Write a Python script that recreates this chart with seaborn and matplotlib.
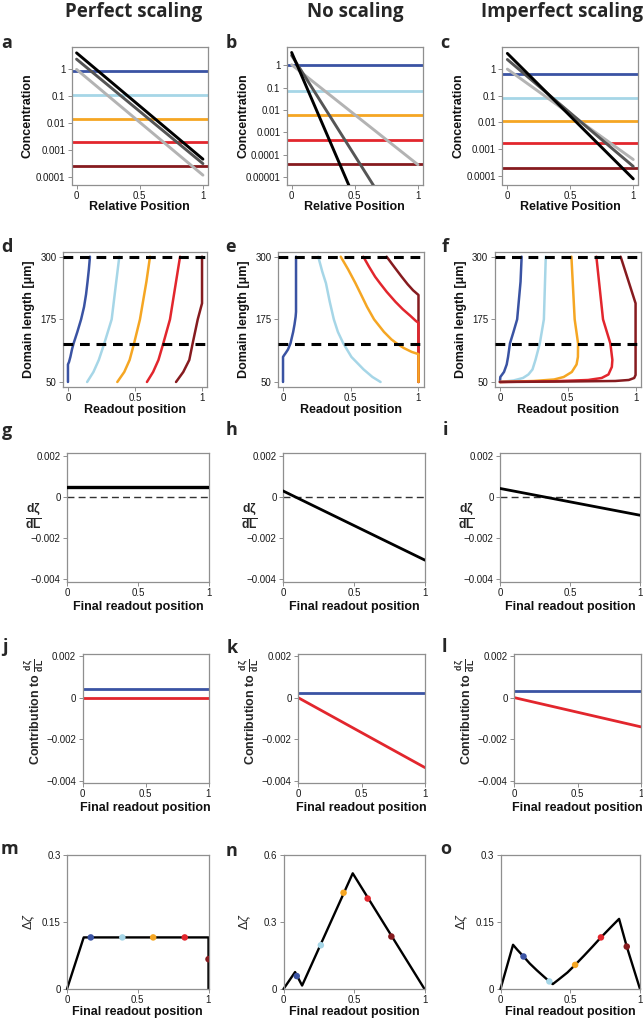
import matplotlib
matplotlib.use("Agg")
import matplotlib.pyplot as plt
import seaborn as sns
import pandas as pd

# ---------------- data ----------------
col_titles = ["Perfect scaling", "No scaling", "Imperfect scaling"]
panel_letters = list("abcdefghijklmno")
thr_colors = ["#3a53a3", "#a6d6e7", "#f5a623", "#e2262d", "#861b1f"]
grad_colors = ["#000000", "#555555", "#b3b3b3"]

# row 1: morphogen gradients (value at relative position 0 and 1) and thresholds
rel_pos = [0.0, 1.0]
grad_a = [[4.1, 4.7e-4], [2.4, 3.2e-4], [1.0, 1.2e-4]]
grad_b = [[3.7, 3e-13], [2.75, 3e-9], [1.05, 3.6e-5]]
grad_c = [[3.9, 7.5e-5], [2.3, 2.2e-4], [1.0, 4.0e-4]]
thr_a = [0.85, 0.11, 0.015, 0.002, 2.7e-4]
thr_b = [1.0, 0.072, 0.006, 4.8e-4, 3.8e-5]
thr_c = [0.65, 0.085, 0.0115, 0.0016, 2.0e-4]
conc_ticks_ac = [1, 0.1, 0.01, 0.001, 0.0001]
conc_labels_ac = ["1", "0.1", "0.01", "0.001", "0.0001"]
conc_ticks_b = [1, 0.1, 0.01, 0.001, 0.0001, 0.00001]
conc_labels_b = ["1", "0.1", "0.01", "0.001", "0.0001", "0.00001"]

# row 2: readout position vs domain length
dom_lines = [125, 300]
d_L = [[50, 85, 90, 100, 115, 127, 150, 175, 200, 225, 250, 275, 300],
       [50, 70, 94, 127, 175, 250, 300],
       [50, 70, 94, 127, 175, 250, 300],
       [50, 70, 94, 127, 175, 250, 300],
       [50, 70, 94, 127, 175, 207, 300]]
d_x = [[0.0, 0.0, 0.008, 0.018, 0.030, 0.042, 0.070, 0.098, 0.120, 0.135, 0.146, 0.156, 0.164],
       [0.143, 0.19, 0.23, 0.271, 0.326, 0.36, 0.383],
       [0.368, 0.42, 0.46, 0.493, 0.537, 0.585, 0.612],
       [0.589, 0.635, 0.675, 0.711, 0.761, 0.806, 0.836],
       [0.806, 0.86, 0.905, 0.93, 0.968, 1.0, 1.0]]
e_L = [[50, 100, 103, 108, 115, 127, 150, 165, 180, 190, 300],
       [50, 60, 75, 100, 127, 150, 175, 210, 247, 270, 300],
       [50, 105.6, 110, 118, 127, 135, 150, 175, 200, 225, 247, 275, 300],
       [50, 168, 172, 182, 195, 210, 230, 247, 260, 280, 300],
       [50, 223.6, 233, 245, 260, 280, 300]]
e_x = [[0.0, 0.0, 0.007, 0.020, 0.037, 0.055, 0.075, 0.085, 0.093, 0.096, 0.096],
       [0.72, 0.66, 0.595, 0.505, 0.445, 0.405, 0.375, 0.345, 0.317, 0.29, 0.26],
       [1.0, 1.0, 0.95, 0.89, 0.839, 0.80, 0.745, 0.672, 0.62, 0.575, 0.535, 0.48, 0.426],
       [1.0, 1.0, 0.98, 0.94, 0.885, 0.83, 0.765, 0.716, 0.68, 0.635, 0.593],
       [1.0, 1.0, 0.96, 0.92, 0.876, 0.82, 0.765]]
f_L = [[50, 60, 70, 85, 100, 127, 150, 175, 250, 300],
       [50, 53, 58, 65, 75, 94, 127, 175, 300],
       [50, 52, 55, 60, 70, 85, 100, 127, 175, 300],
       [50, 51.5, 54, 58, 65, 80, 94, 127, 175, 300],
       [50, 51, 52, 54, 58, 64, 207, 300]]
f_x = [[0.0, 0.003, 0.03, 0.05, 0.06, 0.074, 0.10, 0.127, 0.152, 0.16],
       [0.0, 0.10, 0.17, 0.21, 0.24, 0.262, 0.294, 0.324, 0.338],
       [0.0, 0.25, 0.40, 0.47, 0.53, 0.565, 0.575, 0.576, 0.551, 0.527],
       [0.0, 0.40, 0.65, 0.75, 0.80, 0.825, 0.829, 0.814, 0.76, 0.711],
       [0.0, 0.50, 0.85, 0.95, 0.99, 1.0, 1.0, 0.89]]
dom_ticks = [50, 175, 300]

# row 3: dzeta/dL vs final readout position
fin_pos = [0.0, 1.0]
g_y = [0.00046, 0.00046]
h_y = [0.00029, -0.00307]
i_y = [0.00041, -0.00089]
deriv_ticks = [0.002, 0, -0.002, -0.004]
deriv_labels = ["0.002", "0", "\u22120.002", "\u22120.004"]

# row 4: contributions (blue = constant term, red = position term)
j_blue, j_red = [0.00040, 0.00040], [0.0, 0.0]
k_blue, k_red = [0.00024, 0.00024], [0.0, -0.00337]
l_blue, l_red = [0.00032, 0.00032], [0.0, -0.00141]

# row 5: readout error
m_x = [0.0, 0.118, 1.0, 1.0]
m_y = [0.0, 0.1155, 0.1155, 0.0]
m_dx = [0.168, 0.391, 0.609, 0.832, 1.0]
m_dy = [0.1155, 0.1155, 0.1155, 0.1155, 0.0668]
n_x = [0.0, 0.082, 0.132, 0.491, 1.0]
n_y = [0.0, 0.0758, 0.0155, 0.518, 0.0]
n_dx = [0.094, 0.265, 0.426, 0.597, 0.765]
n_dy = [0.058, 0.196, 0.431, 0.405, 0.235]
o_x = [0.0, 0.09, 0.12, 0.165, 0.21, 0.26, 0.31, 0.35, 0.375, 0.42, 0.48, 0.535,
       0.60, 0.66, 0.72, 0.79, 0.85, 0.905, 1.0]
o_y = [0.0, 0.099, 0.088, 0.0728, 0.057, 0.042, 0.028, 0.017, 0.011, 0.022, 0.037, 0.054,
       0.075, 0.095, 0.1155, 0.138, 0.157, 0.095, 0.0]
o_dx = [0.165, 0.35, 0.535, 0.72, 0.905]
o_dy = [0.0728, 0.017, 0.054, 0.1155, 0.095]
err_ticks_mo = [0, 0.15, 0.3]
err_labels_mo = ["0", "0.15", "0.3"]
err_ticks_n = [0, 0.3, 0.6]
err_labels_n = ["0", "0.3", "0.6"]
x_ticks = [0, 0.5, 1]
x_labels = ["0", "0.5", "1"]

# ---------------- style ----------------
sns.set_theme(style="ticks")
plt.rcParams["font.family"] = ["Liberation Sans", "DejaVu Sans"]
plt.rcParams["mathtext.fontset"] = "custom"
plt.rcParams["mathtext.rm"] = "Liberation Sans"
plt.rcParams["mathtext.bf"] = "Liberation Sans:bold"
plt.rcParams["mathtext.it"] = "Liberation Sans:italic"
plt.rcParams["mathtext.sf"] = "Liberation Sans"

W, H = 643, 1019
FRAME = "#8f8f8f"
fig = plt.figure(figsize=(W / 100, H / 100), dpi=100)


def add_ax(xl, xr, yt, yb):
    return fig.add_axes([xl / W, 1 - yb / H, (xr - xl) / W, (yb - yt) / H])


def style_ax(ax):
    for sp in ax.spines.values():
        sp.set_visible(True)
        sp.set_color(FRAME)
        sp.set_linewidth(0.9)
    ax.tick_params(axis="both", which="both", direction="out", length=3, width=0.7,
                   color=FRAME, labelsize=7, pad=1.5, labelcolor="#1a1a1a")
    ax.tick_params(which="minor", length=0)
    ax.set_xlabel("")
    ax.set_ylabel("")
    ax.grid(False)


def ftext(x, y, s, **kw):
    fig.text(x / W, 1 - y / H, s, **kw)


lab_kw = dict(fontsize=9, fontweight="bold", ha="center", va="center", color="#111111")

rows_y = [(47.3, 184.5), (251.7, 387.0), (453.2, 581.8), (653.5, 783.2), (855.0, 989.0)]
cols_x = [[(71.5, 208.0), (286.6, 423.0), (502.3, 638.3)],
          [(62.6, 207.4), (277.6, 423.9), (494.5, 641.0)],
          [(67.0, 209.0), (283.0, 425.0), (500.0, 640.0)],
          [(82.5, 208.5), (298.0, 425.0), (514.0, 641.0)],
          [(67.0, 208.5), (283.5, 424.5), (500.5, 640.0)]]
letters_xy = [[(7, 43), (231, 43), (445, 43)],
              [(7, 247), (231, 247), (445, 247)],
              [(7, 431), (232, 430), (445, 430)],
              [(5, 647), (232, 648), (444, 647)],
              [(10, 849), (232, 851), (446, 849)]]
xlab_y = [207.3, 410.0, 607.3, 808.0, 1011.7]
xlab_txt = ["Relative Position", "Readout position", "Final readout position",
            "Final readout position", "Final readout position"]

axes = []
for r in range(5):
    row = []
    for c in range(3):
        xl, xr = cols_x[r][c]
        yt, yb = rows_y[r]
        ax = add_ax(xl, xr, yt, yb)
        style_ax(ax)
        row.append(ax)
        lx, ly = letters_xy[r][c]
        ftext(lx, ly, panel_letters[r * 3 + c], fontsize=13, fontweight="bold",
              family=["Open Sans", "DejaVu Sans"], ha="center", va="center")
        ftext((xl + xr) / 2, xlab_y[r], xlab_txt[r], **lab_kw)
    axes.append(row)

for c, t in enumerate(col_titles):
    ftext([134, 355, 562][c], 12, t, fontsize=13.5, fontweight="bold",
          family=["Open Sans", "DejaVu Sans"], ha="center", va="center")

# ---------- row 1 ----------
row1 = [(grad_a, thr_a, (5.4e-5, 6.6), conc_ticks_ac, conc_labels_ac),
        (grad_b, thr_b, (4.7e-6, 6.3), conc_ticks_b, conc_labels_b),
        (grad_c, thr_c, (4.6e-5, 6.6), conc_ticks_ac, conc_labels_ac)]
for c, (grads, thr, ylim, yt, ytl) in enumerate(row1):
    ax = axes[0][c]
    ax.set_yscale("log")
    for val, col in zip(thr, thr_colors):
        ax.axhline(val, color=col, lw=2.0, zorder=2)
    for vals, col in list(zip(grads, grad_colors))[::-1]:
        sns.lineplot(x=rel_pos, y=vals, color=col, lw=2.1, ax=ax, estimator=None, zorder=3)
    ax.set_xlim(-0.04, 1.04)
    ax.set_ylim(*ylim)
    ax.set_yticks(yt, ytl)
    ax.set_xticks(x_ticks, x_labels)
    style_ax(ax)
    xl = cols_x[0][c][0]
    ftext(xl - 43.5, sum(rows_y[0]) / 2, "Concentration", rotation=90, **lab_kw)

# ---------- row 2 ----------
for c, (Ls, Xs) in enumerate([(d_L, d_x), (e_L, e_x), (f_L, f_x)]):
    ax = axes[1][c]
    order = range(5) if c != 1 else range(4, -1, -1)
    for k in order:
        sns.lineplot(x=Xs[k], y=Ls[k], sort=False, estimator=None, color=thr_colors[k],
                     lw=1.8, ax=ax, zorder=2)
    for yv in dom_lines:
        ax.axhline(yv, color="black", lw=2.2, ls=(0, (3.2, 2.2)), zorder=3)
    ax.set_xlim(-0.04, 1.04)
    ax.set_ylim(40, 310)
    ax.set_yticks(dom_ticks, [str(t) for t in dom_ticks])
    ax.set_xticks(x_ticks, x_labels)
    style_ax(ax)
    xl = cols_x[1][c][0]
    ftext(xl - 33.6, sum(rows_y[1]) / 2, "Domain length [\u03bcm]", rotation=90, **lab_kw)

# ---------- row 3 ----------
for c, yv in enumerate([g_y, h_y, i_y]):
    ax = axes[2][c]
    ax.axhline(0, color="#333333", lw=1.0, ls=(0, (5, 3)), zorder=2)
    sns.lineplot(x=fin_pos, y=yv, color="black", lw=2.0 if c else 2.4, ax=ax,
                 estimator=None, zorder=3)
    ax.set_xlim(0, 1)
    ax.set_ylim(-0.00412, 0.00212)
    ax.set_yticks(deriv_ticks, deriv_labels)
    ax.set_xticks(x_ticks, x_labels)
    style_ax(ax)
    xl = cols_x[2][c][0]
    ftext(xl - 34, 517, r"$\mathbf{\frac{d\zeta}{dL}}$", fontsize=12.5, ha="center", va="center")

# ---------- row 4 ----------
for c, (bl, rd) in enumerate([(j_blue, j_red), (k_blue, k_red), (l_blue, l_red)]):
    ax = axes[3][c]
    sns.lineplot(x=fin_pos, y=bl, color=thr_colors[0], lw=2.0, ax=ax, estimator=None)
    sns.lineplot(x=fin_pos, y=rd, color=thr_colors[3], lw=2.0, ax=ax, estimator=None)
    ax.set_xlim(0, 1)
    ax.set_ylim(-0.00412, 0.00212)
    ax.set_yticks(deriv_ticks, deriv_labels)
    ax.set_xticks(x_ticks, x_labels)
    style_ax(ax)
    xl = cols_x[3][c][0]
    ftext(xl - 48, 712, r"Contribution to $\mathbf{\frac{d\zeta}{dL}}$", rotation=90,
          fontsize=9, fontweight="bold", ha="center", va="center")

# ---------- row 5 ----------
row5 = [(m_x, m_y, m_dx, m_dy, 0.3, err_ticks_mo, err_labels_mo),
        (n_x, n_y, n_dx, n_dy, 0.6, err_ticks_n, err_labels_n),
        (o_x, o_y, o_dx, o_dy, 0.3, err_ticks_mo, err_labels_mo)]
for c, (lx, ly, dx, dy, ymax, yt, ytl) in enumerate(row5):
    ax = axes[4][c]
    sns.lineplot(x=lx, y=ly, sort=False, estimator=None, color="black", lw=1.7, ax=ax,
                 zorder=2, clip_on=False)
    sns.scatterplot(x=dx, y=dy, hue=list(range(5)), palette=thr_colors, s=22,
                    edgecolor="none", legend=False, ax=ax, zorder=3)
    ax.set_xlim(0, 1)
    ax.set_ylim(0, ymax)
    ax.set_yticks(yt, ytl)
    ax.set_xticks(x_ticks, x_labels)
    style_ax(ax)
    xl = cols_x[4][c][0]
    ftext(xl - 38, sum(rows_y[4]) / 2, r"$\Delta\zeta$", rotation=90, fontsize=9,
          ha="center", va="center")

fig.savefig("out.png", dpi=100)
